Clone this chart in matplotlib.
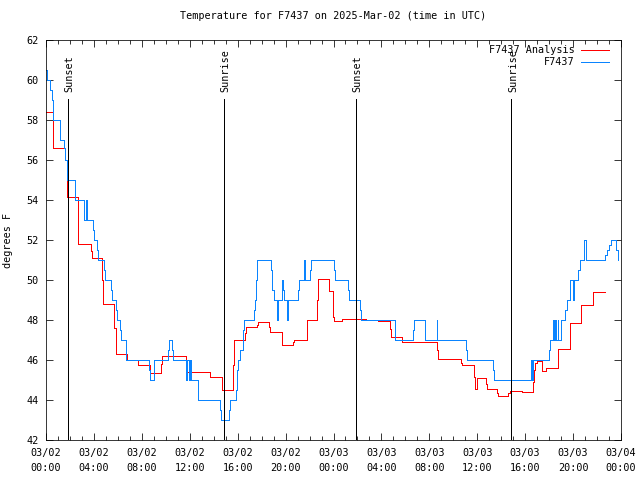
import matplotlib
matplotlib.use("Agg")
import matplotlib.pyplot as plt
import numpy as np

# ---- data (hours since 03/02 00:00 UTC, degrees F) ----
obs_hours = [0.0, 0.05, 0.33, 0.5, 0.61, 1.17, 1.5, 1.56, 1.78, 2.42,
             3.2, 3.3, 3.4, 3.9, 3.97, 4.28, 4.35, 4.8, 4.9, 5.43, 5.5,
             5.84, 5.9, 6.15, 6.22, 6.65, 6.7, 8.6, 8.68, 9.0, 9.05,
             10.2, 10.25, 10.55, 10.6, 11.7, 11.78, 11.95, 12.0, 12.1,
             12.66, 12.72, 14.5, 14.6, 15.3, 15.4, 15.85, 15.92, 16.05,
             16.19, 16.42, 16.47, 16.55, 17.39, 17.45, 17.53, 17.62,
             18.8, 18.9, 19.0, 19.31, 19.4, 19.73, 19.82, 19.9, 20.14,
             20.23, 21.06, 21.14, 21.5, 21.58, 21.65, 22.05, 22.12,
             24.07, 24.15, 25.23, 25.3, 26.21, 26.3, 29.13, 30.66, 30.75,
             31.6, 32.6, 32.68, 35.06, 35.14, 37.35, 37.42, 40.46, 40.54,
             40.62, 41.95, 42.05, 42.3, 42.4, 42.5, 42.6, 42.7, 42.78,
             43.0, 43.35, 43.5, 43.77, 44.03, 44.1, 44.45, 44.55, 44.9,
             45.08, 46.7, 46.85, 47.0, 47.15, 47.55, 47.72]
obs_temps = [60.5, 60.0, 59.5, 59.0, 58.0, 57.0, 56.6, 56.0, 55.0, 54.0,
             53.0, 54.0, 53.0, 52.5, 52.0, 51.5, 51.0, 50.5, 50.0, 49.5, 49.0,
             48.5, 48.0, 47.5, 47.0, 46.5, 46.0, 45.5, 45.0, 45.5, 46.0,
             46.5, 47.0, 46.5, 46.0, 45.0, 46.0, 45.0, 46.0, 45.0,
             44.5, 44.0, 43.5, 43.0, 43.5, 44.0, 44.5, 45.5, 46.0,
             46.5, 47.0, 47.5, 48.0, 48.5, 49.0, 50.0, 51.0,
             50.5, 49.5, 49.0, 48.0, 49.0, 50.0, 49.5, 49.0, 48.0,
             49.0, 49.5, 50.0, 51.0, 50.5, 50.0, 50.5, 51.0,
             50.5, 50.0, 49.5, 49.0, 48.5, 48.0, 47.0, 47.5, 48.0,
             47.0, 48.0, 47.0, 46.5, 46.0, 45.5, 45.0, 46.0, 45.0,
             46.0, 46.5, 47.0, 48.0, 47.0, 48.0, 47.0, 48.0, 47.0,
             48.0, 48.5, 49.0, 50.0, 49.0, 50.0, 50.5, 51.0, 52.0,
             51.0, 51.25, 51.5, 51.75, 52.0, 51.5, 51.0]

ana_hours = [0.0, 0.61, 1.61, 1.73, 2.7, 3.73, 3.81, 4.7, 4.79, 5.68, 5.82,
             6.73, 7.65, 8.68, 9.6, 9.66, 11.66, 11.74, 13.7, 14.66, 15.64,
             15.72, 16.61, 16.69, 17.64, 17.72, 18.61, 18.7, 19.67, 19.73,
             20.64, 20.73, 21.76, 21.81, 22.65, 22.73, 23.65, 23.93, 23.98,
             24.04, 24.73, 25.71, 26.69, 27.74, 28.71, 28.77, 29.74, 32.66,
             32.75, 34.67, 34.75, 35.73, 35.78, 35.95, 36.0, 36.73, 36.79,
             37.62, 37.7, 38.59, 38.73, 39.7, 40.68, 40.73, 40.82, 40.96,
             41.4, 41.43, 41.71, 42.76, 43.74, 44.66, 45.69, 46.66]
ana_temps = [58.4, 56.6, 56.0, 54.17, 51.8, 51.47, 51.1, 50.0, 48.8, 47.6, 46.3,
             46.0, 45.77, 45.33, 45.8, 46.2, 45.5, 45.4, 45.13, 44.5, 45.75,
             47.0, 47.33, 47.63, 47.73, 47.9, 47.63, 47.38, 47.03, 46.73,
             46.9, 47.0, 47.5, 47.98, 48.98, 50.03, 49.47, 48.53, 48.17,
             47.93, 48.07, 48.03, 48.0, 47.93, 47.53, 47.17, 46.92, 46.5,
             46.07, 45.87, 45.73, 45.17, 44.53, 44.83, 45.08, 44.78, 44.55,
             44.37, 44.18, 44.37, 44.45, 44.38, 44.92, 45.5, 45.83, 45.95,
             45.67, 45.45, 45.58, 46.53, 47.83, 48.75, 49.42, 49.42]

sun_hours = [1.84, 14.86, 25.88, 38.83]
sun_labels = ["Sunset", "Sunrise", "Sunset", "Sunrise"]

xtick_hours = list(range(0, 49, 4))
xtick_labels = ["03/02\n00:00", "03/02\n04:00", "03/02\n08:00", "03/02\n12:00",
                "03/02\n16:00", "03/02\n20:00", "03/03\n00:00", "03/03\n04:00",
                "03/03\n08:00", "03/03\n12:00", "03/03\n16:00", "03/03\n20:00",
                "03/04\n00:00"]
ytick_vals = list(range(42, 63, 2))

series_names = ["F7437 Analysis", "F7437"]
RED = "#ff0000"
BLUE = "#0a84ff"

plt.rcParams['font.family'] = ['DejaVu Sans Mono']
FS = 7.3
LW = 0.55

fig = plt.figure(figsize=(6.4, 4.8), dpi=100)
ax = fig.add_axes([46/640, 1-440/480, 575/640, 400/480])

ax.step(ana_hours, ana_temps, where='post', color=RED, lw=LW, antialiased=False)
ax.step(obs_hours, obs_temps, where='post', color=BLUE, lw=LW, antialiased=False)

for h, lab in zip(sun_hours, sun_labels):
    ax.plot([h, h], [42, 59.05], color='black', lw=LW, antialiased=False)
    ax.text(h + 0.15, 59.4, lab, rotation=90, ha='center', va='bottom',
            fontsize=FS)

ax.set_xlim(0, 48)
ax.set_ylim(42, 62)
ax.set_xticks(xtick_hours)
ax.set_xticklabels(xtick_labels, fontsize=FS, linespacing=1.55)
ax.set_xticks(range(0, 49), minor=True)
ax.set_yticks(ytick_vals)
ax.set_yticklabels([str(v) for v in ytick_vals], fontsize=FS)
ax.tick_params(axis='both', which='both', direction='in', top=True, right=True,
               width=LW)
ax.tick_params(axis='x', which='major', length=5, pad=6)
ax.tick_params(axis='x', which='minor', length=3)
ax.tick_params(axis='y', which='major', length=5, pad=5)
for s in ax.spines.values():
    s.set_linewidth(LW)

ax.set_ylabel("degrees F", fontsize=FS, labelpad=12)
ax.yaxis.set_label_coords(-0.057, 0.5)
ax.set_title("Temperature for F7437 on 2025-Mar-02 (time in UTC)", fontsize=FS, pad=15)

# legend (top right, text right-aligned, sample on the right)
for i, (name, col) in enumerate(zip(series_names, [RED, BLUE])):
    yy = 0.9758 - i * 0.0315
    ax.text(0.919, yy, name, transform=ax.transAxes, ha='right', va='center',
            fontsize=FS)
    ax.plot([0.9304, 0.9797], [yy, yy], transform=ax.transAxes, color=col,
            lw=LW, antialiased=False)

fig.savefig("out.png", dpi=100)
